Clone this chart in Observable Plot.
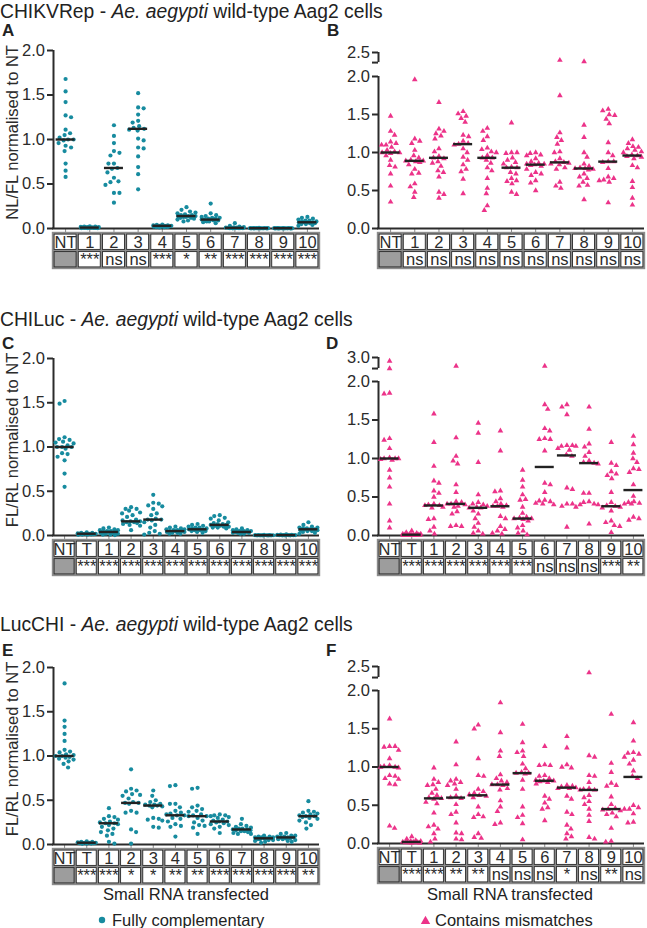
<!DOCTYPE html>
<html><head><meta charset="utf-8">
<script src="https://cdn.jsdelivr.net/npm/d3@7"></script>
<script src="https://cdn.jsdelivr.net/npm/@observablehq/plot@0.6"></script>
<style>
body{margin:0;background:#fff;font-family:"Liberation Sans",Arial,Helvetica,sans-serif;color:#222}
#root{position:relative;width:647px;height:928px;overflow:hidden;background:#fff}
.abs{position:absolute;white-space:nowrap;line-height:1}
.title{font-size:19.3px;line-height:22px}
.letter{font-size:17px;font-weight:bold}
.xlab{font-size:16.5px;width:300px;text-align:center;line-height:18px}
.leg{font-size:16.5px;line-height:18px;display:flex;align-items:center}
.abs svg{overflow:visible}
</style></head><body><div id="root"></div>
<script>
// ---------- categories ----------
const catsAB = ["NT","1","2","3","4","5","6","7","8","9","10"];
const catsCF = ["NT","T","1","2","3","4","5","6","7","8","9","10"];

// ---------- Panel A : CHIKVRep, fully complementary ----------
const valuesA = [
  [1.68,1.54,1.42,1.27,1.25,1.11,1.07,1.05,1.02,1.0,1.0,0.99,0.96,0.93,0.91,0.87,0.73,0.65,0.58],
  [0.025,0.02,0.02,0.018,0.015,0.015,0.012,0.012,0.01,0.01,0.01,0.008,0.008,0.006,0.006,0.005,0.004,0.003],
  [1.16,1.04,0.96,0.87,0.85,0.82,0.73,0.73,0.68,0.67,0.63,0.57,0.53,0.52,0.49,0.40,0.40,0.29],
  [1.52,1.36,1.35,1.28,1.21,1.19,1.15,1.13,1.12,1.11,1.10,1.01,0.99,0.91,0.90,0.81,0.69,0.61,0.44],
  [0.045,0.04,0.035,0.035,0.03,0.03,0.03,0.028,0.025,0.025,0.025,0.02,0.02,0.02,0.018,0.015,0.015,0.012],
  [0.24,0.21,0.19,0.18,0.17,0.16,0.15,0.15,0.14,0.14,0.14,0.13,0.13,0.12,0.12,0.11,0.10,0.09,0.08],
  [0.28,0.17,0.15,0.14,0.13,0.12,0.12,0.11,0.11,0.10,0.10,0.10,0.09,0.09,0.08,0.08,0.07,0.06],
  [0.06,0.03,0.02,0.015,0.012,0.01,0.01,0.008,0.008,0.006,0.005,0.005,0.004,0.003,0.003,0.002],
  [0.006,0.005,0.005,0.004,0.004,0.004,0.003,0.003,0.003,0.003,0.002,0.002,0.002,0.002,0.001,0.001],
  [0.005,0.004,0.004,0.004,0.003,0.003,0.003,0.003,0.002,0.002,0.002,0.002,0.001,0.001,0.001,0.001],
  [0.13,0.12,0.11,0.10,0.09,0.09,0.08,0.08,0.07,0.07,0.07,0.07,0.06,0.06,0.05,0.05,0.04,0.03]
];
const mediansA = [1.0,0.01,0.68,1.12,0.03,0.14,0.10,0.007,0.003,0.003,0.07];
const sigA = ["","***","ns","ns","***","*","**","***","***","***","***"];

// ---------- Panel B : CHIKVRep, contains mismatches ----------
const valuesB = [
  [1.48,1.28,1.23,1.14,1.12,1.10,1.10,1.07,1.03,1.01,1.0,1.0,0.99,0.96,0.90,0.83,0.81,0.72,0.56,0.35],
  [1.96,1.18,1.15,1.12,1.03,0.96,0.93,0.90,0.89,0.89,0.88,0.87,0.84,0.78,0.73,0.72,0.59,0.55,0.48,0.41],
  [1.66,1.31,1.28,1.25,1.22,1.18,1.05,1.01,0.95,0.93,0.92,0.88,0.86,0.82,0.76,0.74,0.68,0.48,0.45,0.40],
  [1.54,1.51,1.48,1.45,1.40,1.23,1.21,1.15,1.12,1.11,1.10,1.05,1.0,0.94,0.90,0.84,0.78,0.75,0.65,0.46],
  [1.32,1.28,1.21,1.16,1.06,1.04,1.01,1.0,0.96,0.93,0.93,0.90,0.86,0.80,0.76,0.66,0.53,0.46,0.30,0.24],
  [1.39,1.0,1.0,0.99,0.93,0.90,0.87,0.85,0.81,0.80,0.80,0.74,0.72,0.66,0.63,0.62,0.59,0.48,0.45],
  [1.0,0.99,0.97,0.96,0.92,0.88,0.86,0.85,0.85,0.84,0.83,0.82,0.78,0.74,0.72,0.70,0.63,0.60,0.50],
  [2.34,1.75,1.26,1.20,1.16,1.11,1.01,1.0,0.92,0.88,0.87,0.86,0.85,0.84,0.80,0.78,0.61,0.56,0.53],
  [2.31,1.36,1.20,1.0,0.94,0.85,0.82,0.80,0.79,0.79,0.78,0.77,0.72,0.68,0.66,0.61,0.57,0.56,0.38],
  [1.57,1.55,1.50,1.49,1.44,1.38,1.13,1.0,0.96,0.88,0.88,0.87,0.79,0.68,0.66,0.64,0.63,0.61,0.34],
  [1.17,1.12,1.08,1.07,1.05,1.03,1.01,1.0,0.97,0.96,0.95,0.94,0.92,0.83,0.80,0.62,0.54,0.40,0.31]
];
const mediansB = [1.0,0.89,0.93,1.11,0.93,0.80,0.84,0.87,0.79,0.88,0.96];
const sigB = ["","ns","ns","ns","ns","ns","ns","ns","ns","ns","ns"];

// ---------- Panel C : CHILuc, fully complementary ----------
const valuesC = [
  [1.52,1.49,1.11,1.09,1.08,1.06,1.05,1.04,1.02,1.0,1.0,1.0,0.98,0.93,0.92,0.89,0.85,0.70,0.55],
  [0.035,0.03,0.03,0.025,0.02,0.02,0.02,0.018,0.015,0.015,0.012,0.01,0.01,0.008],
  [0.09,0.08,0.07,0.06,0.06,0.05,0.05,0.04,0.04,0.04,0.03,0.03,0.02,0.02,0.01,0.01,0.005],
  [0.32,0.30,0.30,0.28,0.26,0.25,0.23,0.21,0.18,0.17,0.16,0.16,0.15,0.15,0.14,0.13,0.12,0.11,0.06],
  [0.46,0.37,0.36,0.34,0.33,0.30,0.25,0.23,0.19,0.18,0.18,0.17,0.15,0.12,0.09,0.05,0.03,0.02,0.01],
  [0.10,0.09,0.08,0.07,0.07,0.06,0.06,0.05,0.05,0.05,0.05,0.04,0.04,0.03,0.03,0.02,0.02],
  [0.13,0.12,0.11,0.10,0.09,0.09,0.08,0.08,0.07,0.07,0.07,0.06,0.06,0.05,0.05,0.04,0.03],
  [0.23,0.22,0.20,0.19,0.17,0.15,0.14,0.13,0.13,0.12,0.12,0.11,0.11,0.10,0.10,0.09,0.09,0.08],
  [0.08,0.07,0.06,0.06,0.05,0.05,0.05,0.04,0.04,0.04,0.03,0.03,0.03,0.02,0.02],
  [0.006,0.005,0.004,0.004,0.003,0.003,0.003,0.002,0.002,0.002,0.001,0.001],
  [0.012,0.01,0.008,0.006,0.005,0.005,0.004,0.003,0.003,0.002,0.002,0.001],
  [0.15,0.12,0.10,0.09,0.09,0.08,0.08,0.07,0.07,0.07,0.06,0.06,0.05,0.05,0.04,0.03,0.02]
];
const mediansC = [1.0,0.02,0.04,0.16,0.18,0.05,0.07,0.12,0.04,0.003,0.004,0.07];
const sigC = ["","***","***","***","***","***","***","***","***","***","***","***"];

// ---------- Panel D : CHILuc, contains mismatches ----------
const valuesD = [
  [2.85,2.54,1.85,1.84,1.26,1.24,1.13,1.01,1.0,1.0,1.0,0.99,0.98,0.85,0.75,0.63,0.41,0.19,0.10],
  [0.06,0.04,0.03,0.02,0.02,0.015,0.01,0.01,0.01,0.008,0.006,0.005,0.004,0.003,0.002,0.001],
  [1.58,1.21,0.90,0.71,0.68,0.58,0.55,0.50,0.41,0.40,0.39,0.39,0.37,0.36,0.22,0.21,0.11,0.06,0.02],
  [2.64,1.27,1.03,0.97,0.93,0.66,0.56,0.44,0.43,0.41,0.41,0.40,0.38,0.37,0.31,0.28,0.13,0.12,0.12],
  [1.46,1.33,0.95,0.53,0.43,0.41,0.40,0.38,0.37,0.36,0.36,0.32,0.28,0.22,0.16,0.11,0.06,0.03,0.02],
  [1.36,1.10,0.58,0.57,0.48,0.44,0.41,0.39,0.38,0.38,0.37,0.25,0.22,0.12,0.08,0.06,0.03,0.02],
  [0.85,0.72,0.63,0.53,0.47,0.46,0.37,0.29,0.24,0.23,0.22,0.22,0.21,0.19,0.13,0.10,0.06,0.03,0.01],
  [2.64,1.70,1.64,1.39,1.36,1.26,1.25,1.25,1.10,0.68,0.66,0.56,0.46,0.45,0.44,0.42,0.41,0.40],
  [1.70,1.67,1.57,1.17,1.17,1.16,1.16,1.13,1.11,1.05,1.03,0.62,0.60,0.41,0.41,0.38,0.37,0.11],
  [1.67,1.38,1.19,1.15,1.08,1.03,0.97,0.95,0.94,0.93,0.55,0.55,0.44,0.43,0.41,0.40,0.40,0.15],
  [1.21,0.94,0.91,0.83,0.80,0.78,0.74,0.56,0.43,0.39,0.38,0.37,0.36,0.32,0.19,0.17,0.13,0.12,0.04],
  [1.29,1.18,1.07,1.0,0.95,0.87,0.86,0.82,0.66,0.51,0.44,0.43,0.42,0.41,0.41,0.24,0.22,0.20]
];
const mediansD = [1.0,0.01,0.39,0.41,0.36,0.38,0.22,0.89,1.04,0.94,0.38,0.59];
const sigD = ["","***","***","***","***","***","***","ns","ns","ns","***","**"];

// ---------- Panel E : LucCHI, fully complementary ----------
const valuesE = [
  [1.82,1.40,1.33,1.25,1.17,1.07,1.05,1.04,1.02,1.01,1.0,1.0,0.99,0.98,0.97,0.96,0.94,0.91,0.87],
  [0.035,0.03,0.03,0.025,0.02,0.02,0.02,0.015,0.015,0.01,0.01,0.008],
  [0.41,0.32,0.31,0.29,0.28,0.26,0.25,0.24,0.24,0.23,0.22,0.20,0.18,0.16,0.14,0.12,0.10,0.03,0.01],
  [0.85,0.63,0.61,0.60,0.57,0.56,0.55,0.52,0.48,0.47,0.47,0.46,0.38,0.36,0.36,0.17,0.14,0.01],
  [0.61,0.55,0.50,0.48,0.46,0.45,0.45,0.44,0.44,0.43,0.42,0.30,0.29,0.28,0.27,0.20,0.19],
  [0.67,0.66,0.46,0.46,0.42,0.38,0.36,0.35,0.34,0.33,0.33,0.30,0.29,0.26,0.23,0.21,0.20,0.09],
  [0.64,0.63,0.44,0.42,0.40,0.38,0.37,0.34,0.33,0.32,0.32,0.30,0.27,0.25,0.22,0.21,0.19,0.12],
  [0.34,0.33,0.33,0.32,0.31,0.30,0.28,0.27,0.26,0.26,0.25,0.24,0.23,0.22,0.20,0.18,0.13],
  [0.29,0.23,0.21,0.20,0.19,0.18,0.18,0.17,0.17,0.16,0.16,0.15,0.15,0.14,0.13,0.12,0.12],
  [0.10,0.09,0.09,0.08,0.08,0.08,0.07,0.07,0.07,0.06,0.06,0.05,0.05,0.04,0.03,0.02],
  [0.13,0.12,0.10,0.10,0.09,0.09,0.08,0.08,0.08,0.07,0.07,0.06,0.06,0.05,0.04,0.03],
  [0.49,0.38,0.37,0.36,0.35,0.34,0.33,0.32,0.32,0.31,0.30,0.29,0.27,0.25,0.22,0.18]
];
const mediansE = [1.0,0.02,0.24,0.47,0.44,0.33,0.32,0.26,0.17,0.07,0.08,0.32];
const sigE = ["","***","***","*","*","**","**","***","***","***","***","**"];

// ---------- Panel F : LucCHI, contains mismatches ----------
const valuesF = [
  [1.63,1.27,1.27,1.26,1.22,1.11,1.02,1.01,1.0,1.0,0.99,0.89,0.88,0.85,0.84,0.78,0.77,0.23,0.20],
  [0.09,0.06,0.04,0.03,0.03,0.02,0.02,0.02,0.015,0.01,0.01,0.01,0.005,0.005],
  [0.99,0.84,0.80,0.77,0.76,0.71,0.66,0.63,0.60,0.59,0.58,0.54,0.52,0.40,0.24,0.22,0.19,0.13,0.06,0.02],
  [1.33,1.03,0.84,0.82,0.80,0.78,0.76,0.71,0.62,0.60,0.59,0.51,0.41,0.38,0.27,0.14,0.13,0.06,0.05],
  [1.55,1.50,1.11,0.89,0.88,0.71,0.68,0.66,0.64,0.63,0.62,0.60,0.48,0.38,0.35,0.34,0.13,0.08,0.07],
  [1.84,1.45,1.21,1.14,0.90,0.85,0.82,0.80,0.77,0.77,0.76,0.72,0.70,0.56,0.48,0.42,0.27,0.25],
  [1.56,1.32,1.21,1.19,1.14,1.04,0.98,0.93,0.92,0.92,0.91,0.83,0.71,0.48,0.37,0.34,0.26,0.05],
  [1.27,1.03,1.02,1.02,0.89,0.88,0.85,0.83,0.82,0.82,0.81,0.80,0.78,0.62,0.58,0.53,0.47,0.45,0.30],
  [1.40,1.25,1.03,1.0,0.99,0.76,0.75,0.74,0.73,0.72,0.72,0.62,0.58,0.41,0.38,0.24,0.19,0.13,0.09,0.06],
  [2.37,1.15,1.13,0.89,0.88,0.80,0.72,0.71,0.70,0.70,0.63,0.60,0.55,0.51,0.45,0.37,0.29,0.08,0.06],
  [1.69,1.05,0.93,0.79,0.76,0.75,0.61,0.51,0.46,0.45,0.44,0.43,0.40,0.38,0.35,0.20,0.03,0.02],
  [1.58,1.34,1.19,1.18,1.17,1.13,1.09,1.04,0.95,0.88,0.85,0.50,0.47,0.45,0.45,0.39,0.28,0.27]
];
const mediansF = [1.0,0.02,0.59,0.60,0.63,0.77,0.92,0.82,0.73,0.70,0.45,0.87];
const sigF = ["","***","***","**","**","ns","ns","ns","*","ns","**","ns"];

// ---------- tick labels ----------
const ticks2 = [0,0.5,1.0,1.5,2.0];

// ---------- styling ----------
const TEAL = "#178b9f";
const PINK = "#ec3389";
const INK = "#2b2b2b";
const FONT = "Liberation Sans, Arial, Helvetica, sans-serif";

const root = document.getElementById("root");
function addDiv(cls, html, left, top, extra) {
  const d = document.createElement("div");
  d.className = "abs " + cls;
  d.innerHTML = html;
  d.style.left = left + "px"; d.style.top = top + "px";
  if (extra) Object.assign(d.style, extra);
  root.appendChild(d);
  return d;
}

function swarm(vals, ys, bandPx) {
  const D = 5.4, maxOff = 9;
  const placed = [];
  const res = new Array(vals.length);
  const idx = d3.range(vals.length).sort((a, b) => vals[b] - vals[a]);
  const cands = [0];
  for (let s = 0.5; s <= maxOff + 1e-9; s += 0.5) cands.push(s, -s);
  let flip = 1;
  for (const i of idx) {
    const py = ys(vals[i]);
    let best = 0, bestD = -1;
    for (const c0 of cands) {
      const c = c0 * flip;
      let md = Infinity;
      for (const p of placed) { const d = Math.hypot(p.px - c, p.py - py); if (d < md) md = d; }
      if (md >= D) { best = c; bestD = md; break; }
      if (md > bestD) { bestD = md; best = c; }
    }
    placed.push({px: best, py});
    res[i] = best / bandPx;
    flip = -flip;
  }
  return res;
}

function panel(o) {
  const n = o.cats.length;
  const svgTop = o.svgTop, svgLeft = o.svgLeft, W = o.svgW, H = 205;
  const xr = [o.x0 - svgLeft, o.x1 - svgLeft];
  const band = (xr[1] - xr[0]) / n;
  const yDomain = o.yTop ? [0, 2, o.yTop] : [0, 2];
  const yRange = o.yTop ? [o.py0 - svgTop, o.py2 - svgTop, o.pyTop - svgTop] : [o.py0 - svgTop, o.py2 - svgTop];
  const ys = d3.scaleLinear().domain(yDomain).range(yRange);
  const pts = [];
  o.values.forEach((arr, gi) => {
    const offs = swarm(arr, ys, band);
    arr.forEach((v, k) => pts.push({x: gi + offs[k], v}));
  });
  const tickVals = o.yTop ? [...ticks2, o.brk, o.yTop] : ticks2;
  const labelVals = o.yTop ? [...ticks2, o.yTop] : ticks2;
  const axisSegs = o.yTop ? [{a: 0, b: 2}, {a: o.brk, b: o.yTop}] : [{a: 0, b: 2}];
  const tl = 6 / band;
  const hw = 9.5 / band;
  const yBelow = ys.invert(ys(0) + 4.5);
  const marks = [
    Plot.ruleX(d3.range(n), {x: d => d, y1: 0, y2: yBelow, stroke: "#8a8a8a", strokeWidth: 1}),
    Plot.ruleY([0], {y: d => d, x1: -0.5 - 1 / band, x2: n - 0.5, stroke: INK, strokeWidth: 2}),
    Plot.ruleX(axisSegs, {x: -0.5, y1: "a", y2: "b", stroke: INK, strokeWidth: 2}),
    Plot.ruleY(tickVals, {y: d => d, x1: -0.5 - tl, x2: -0.5, stroke: INK, strokeWidth: 2}),
    Plot.text(labelVals, {x: -0.5, y: d => d, text: d => d.toFixed(1), textAnchor: "end", dx: -8.5, fontSize: 16.5, fill: INK, fontFamily: FONT}),
    Plot.dot(pts, {x: "x", y: "v", r: o.symbol === "triangle" ? 2.1 : 2.1, fill: o.color, stroke: "none", symbol: o.symbol}),
    Plot.ruleY(o.medians.map((m, i) => ({i, m})), {y: "m", x1: d => d.i - hw, x2: d => d.i + hw, stroke: "#222", strokeWidth: 2.4})
  ];
  if (o.ylabel) {
    marks.push(Plot.text([o.ylabel], {x: -0.5, y: 1.08, text: d => d, rotate: -90, dx: -41, fontSize: 16.5, fill: INK, fontFamily: FONT, textAnchor: "middle"}));
  }
  const chart = Plot.plot({
    width: W, height: H, marginLeft: 0, marginRight: 0, marginTop: 0, marginBottom: 0,
    style: {background: "transparent", fontFamily: FONT, overflow: "visible"},
    x: {type: "linear", domain: [-0.5, n - 0.5], range: xr, axis: null},
    y: {type: "linear", domain: yDomain, range: yRange, axis: null},
    marks
  });
  const holder = addDiv("", "", svgLeft, svgTop);
  holder.appendChild(chart);

  // table below the panel
  const tTop = o.tableTop;
  const cells = [];
  o.cats.forEach((c, i) => {
    cells.push({i, r: 0, fill: "#fff"});
    cells.push({i, r: 1, fill: i === 0 ? "#9d9d9d" : "#fff"});
  });
  const table = Plot.plot({
    width: W, height: 40, marginLeft: 0, marginRight: 0, marginTop: 0, marginBottom: 0,
    style: {background: "transparent", fontFamily: FONT, overflow: "visible"},
    x: {type: "linear", domain: [-0.5, n - 0.5], range: xr, axis: null},
    y: {type: "linear", domain: [0, 2], range: [1, 36], axis: null},
    marks: [
      Plot.rect([0], {x1: -0.5, x2: n - 0.5, y1: 0, y2: 2, fill: "#8c8c8c", inset: -1.2}),
      Plot.rect(cells, {x1: d => d.i - 0.5, x2: d => d.i + 0.5, y1: "r", y2: d => d.r + 1, fill: "fill", stroke: "#2a2a2a", strokeWidth: 0.9, inset: 1.1}),
      Plot.text(o.cats, {x: (d, i) => i, y: 0.5, text: d => d, fontSize: 16.5, fill: INK, fontFamily: FONT}),
      Plot.text(o.sig, {x: (d, i) => i, y: 1.5, text: d => d, fontSize: 16.5, fill: INK, fontFamily: FONT})
    ]
  });
  const th = addDiv("", "", svgLeft, tTop - 1);
  th.appendChild(table);
}

// Titles
const titles = [
  {t: "CHIKVRep - <i>Ae. aegypti</i> wild-type Aag2 cells", top: 1},
  {t: "CHILuc - <i>Ae. aegypti</i> wild-type Aag2 cells", top: 309},
  {t: "LucCHI - <i>Ae. aegypti</i> wild-type Aag2 cells", top: 614}
];
titles.forEach(d => addDiv("title", d.t, 0, d.top));
[["A", 2, 22], ["B", 327, 22], ["C", 2, 335], ["D", 326, 335], ["E", 2, 642], ["F", 326, 642]]
  .forEach(([l, x, y]) => addDiv("letter", l, x, y));

panel({cats: catsAB, values: valuesA, medians: mediansA, sig: sigA, svgLeft: 0, svgW: 323, svgTop: 38,
  x0: 53, x1: 319, py0: 228, py2: 50, tableTop: 233, color: TEAL, symbol: "circle", ylabel: "NL/FL normalised to NT"});
panel({cats: catsAB, values: valuesB, medians: mediansB, sig: sigB, svgLeft: 323, svgW: 324, svgTop: 38,
  x0: 378, x1: 644, py0: 228, py2: 76, yTop: 2.5, pyTop: 52, brk: 2.29, tableTop: 233, color: PINK, symbol: "triangle"});
panel({cats: catsCF, values: valuesC, medians: mediansC, sig: sigC, svgLeft: 0, svgW: 323, svgTop: 345,
  x0: 53, x1: 319, py0: 535, py2: 358, tableTop: 540, color: TEAL, symbol: "circle", ylabel: "FL/RL normalised to NT"});
panel({cats: catsCF, values: valuesD, medians: mediansD, sig: sigD, svgLeft: 323, svgW: 324, svgTop: 345,
  x0: 378, x1: 644, py0: 535, py2: 381, yTop: 3.0, pyTop: 357, brk: 2.54, tableTop: 540, color: PINK, symbol: "triangle"});
panel({cats: catsCF, values: valuesE, medians: mediansE, sig: sigE, svgLeft: 0, svgW: 323, svgTop: 652,
  x0: 53, x1: 319, py0: 844, py2: 667, tableTop: 849, color: TEAL, symbol: "circle", ylabel: "FL/RL normalised to NT"});
panel({cats: catsCF, values: valuesF, medians: mediansF, sig: sigF, svgLeft: 323, svgW: 324, svgTop: 652,
  x0: 378, x1: 644, py0: 843, py2: 690, yTop: 2.5, pyTop: 666, brk: 2.27, tableTop: 848, color: PINK, symbol: "triangle"});

addDiv("xlab", "Small RNA transfected", 186 - 150, 885);
addDiv("xlab", "Small RNA transfected", 510 - 150, 885);
addDiv("leg", `<svg width="10" height="10" style="margin-right:5px"><circle cx="5" cy="5" r="3.2" fill="${TEAL}"/></svg>Fully complementary`, 97, 911);
addDiv("leg", `<svg width="11" height="10" style="margin-right:4px"><path d="M5.5 0.8 L10.2 9 L0.8 9 Z" fill="${PINK}"/></svg>Contains mismatches`, 420, 911);
</script></body></html>
